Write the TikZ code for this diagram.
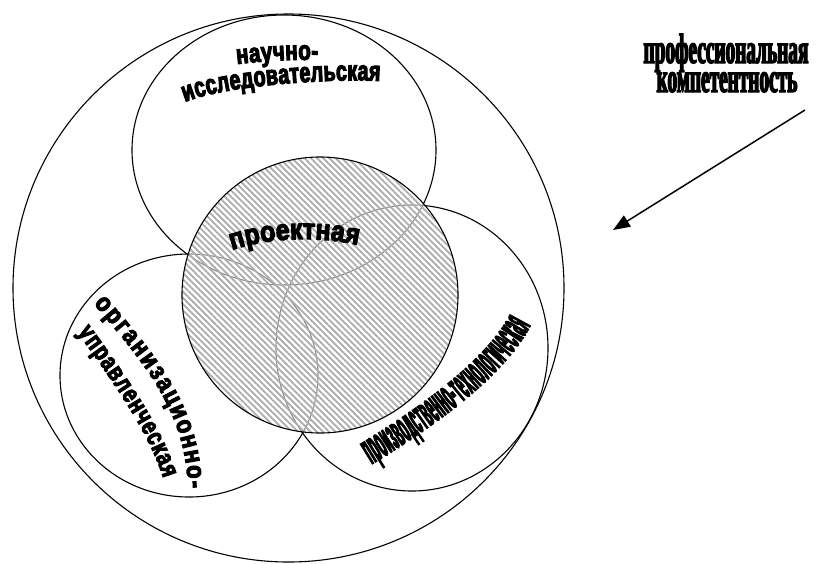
\documentclass[tikz,border=0pt]{standalone}
\usepackage{fontspec}
\usetikzlibrary{decorations.text,arrows.meta,patterns.meta}
\newfontfamily\fNau[FakeStretch=0.76,FakeBold=4]{Liberation Sans Bold}
\newfontfamily\fTop[FakeStretch=0.7,FakeBold=4]{Liberation Sans Bold}
\newfontfamily\fProj[FakeStretch=0.85,FakeBold=4]{Liberation Sans Bold}
\newfontfamily\fOrg[FakeStretch=0.85,FakeBold=4]{Liberation Sans Bold}
\newfontfamily\fUpr[FakeStretch=0.75,FakeBold=4]{Liberation Sans Bold}
\newfontfamily\fProd[FakeStretch=0.25,FakeBold=2.5]{Liberation Sans Bold}
\newfontfamily\fProf[FakeStretch=0.46,FakeBold=3]{Liberation Serif Bold}
\tikzset{
  circ/.style={draw=black, line width=1.1pt},
  curvetext/.style={decorate, decoration={text along path, text align={fit to path}, #1}},
  proftext/.style={font=\fProf\fontsize{42pt}{42pt}\selectfont, inner sep=0pt, anchor=base},
  arr/.style={line width=1.5pt, -{Triangle[length=17pt,width=13pt]}}
}
\begin{document}
\begin{tikzpicture}[x=1pt,y=-1pt]
\useasboundingbox (0,0) rectangle (818,563);
% outer and component ellipses
\draw[circ] (288.5,288) ellipse [x radius=275.5pt, y radius=274pt];
\draw[circ] (284,150) ellipse [x radius=152pt, y radius=135pt];
\draw[circ] (189,375.5) ellipse [x radius=129pt, y radius=121.5pt];
\draw[circ] (412,348) ellipse [x radius=136pt, y radius=143pt];
% hatched central circle
\fill[white, opacity=0.55] (320,295) circle [radius=138pt];
\fill[pattern={Lines[angle=-45, distance=4.4pt, line width=1.8pt]}, pattern color=gray!65] (320,295) circle [radius=138pt];
\draw[circ] (320,295) circle [radius=138pt];
% curved labels
\path[curvetext={text={|\fNau\fontsize{27pt}{27pt}\selectfont|научно-}}]
  (237,64) .. controls (265,61) and (290,59) .. (318,60);
\path[curvetext={text={|\fTop\fontsize{28pt}{28pt}\selectfont|исследовательская}}]
  (185,102) .. controls (225,85) and (335,78) .. (380,81);
\path[curvetext={text={|\fProj\fontsize{29pt}{29pt}\selectfont|проектная}}]
  (232,250) .. controls (270,237) and (320,236) .. (358,245);
\path[curvetext={text={|\fOrg\fontsize{26pt}{26pt}\selectfont|организационно-}, raise=-7pt}]
  (99,299) .. controls (145,354) and (193,405) .. (195,488);
\path[curvetext={text={|\fUpr\fontsize{26pt}{26pt}\selectfont|управленческая}, raise=-7pt}]
  (83,328) .. controls (112,368) and (155,427) .. (170,476);
\path[curvetext={text={|\fProd\fontsize{44pt}{44pt}\selectfont|производственно-технологическая}, raise=-11pt}]
  (366,455) .. controls (415,425) and (494,373) .. (521,320);
% title
\node[proftext] (t1) at (726,63) {профессиональная};
\node[proftext] (t2) at (727,92) {компетентность};
% arrow
\coordinate (arrS) at (805,110);
\coordinate (arrE) at (613,230);
\draw[arr] (arrS) -- (arrE);
\end{tikzpicture}
\end{document}
